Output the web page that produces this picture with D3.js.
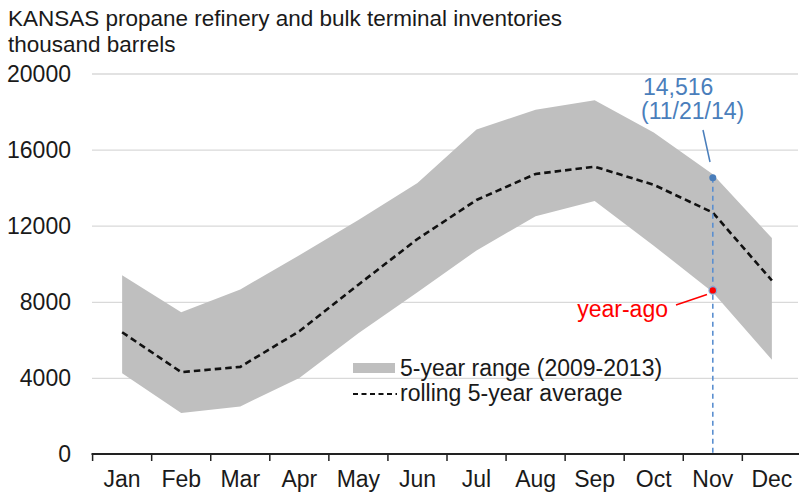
<!DOCTYPE html>
<meta charset="utf-8">
<style>
  body { margin: 0; background: #fff; }
  svg text { font-family: Arial, "Liberation Sans", sans-serif; fill: #1a1a1a; font-size: 23px; }
  .grid line { stroke: #d9d9d9; stroke-width: 1.3; }
  .grid path.domain { display: none; }
</style>
<body></body>
<script src="https://cdn.jsdelivr.net/npm/d3@7"></script>
<script>

var months = ["Jan","Feb","Mar","Apr","May","Jun","Jul","Aug","Sep","Oct","Nov","Dec"];
var rangeHigh = [9400, 7450, 8650, 10450, 12300, 14250, 17050, 18100, 18600, 16900, 14700, 11350];
var rangeLow  = [4250, 2150, 2500, 4000, 6350, 8500, 10700, 12500, 13300, 10950, 8500, 4950];
var avg5yr    = [6400, 4300, 4580, 6450, 8900, 11300, 13350, 14720, 15100, 14150, 12690, 9120];
var yTicks = [0, 4000, 8000, 12000, 16000, 20000];

// latest weekly reading and the year-ago value, both plotted at Nov
var latest = {month: "Nov", value: 14516, label: "14,516", date: "(11/21/14)"};
var yearAgo = {month: "Nov", value: 8600, label: "year-ago"};

var W = 799, H = 492;
var m = {left: 92.6, right: 801.4, top: 73.5, bottom: 454};

var svg = d3.select("body").append("svg")
    .attr("width", W)
    .attr("height", H);

var x = d3.scaleBand().domain(months).range([m.left, m.right]).padding(0);
var y = d3.scaleLinear().domain([0, 20000]).range([m.bottom, m.top]);
var cx = function(d) { return x(d) + x.bandwidth() / 2; };

// title
svg.append("text").attr("x", 8).attr("y", 26).style("font-size", "22.5px")
    .text("KANSAS propane refinery and bulk terminal inventories");
svg.append("text").attr("x", 8).attr("y", 52).style("font-size", "22.5px")
    .text("thousand barrels");

// gridlines + y labels
svg.append("g").attr("class", "grid")
    .attr("transform", "translate(92,0)")
    .call(d3.axisLeft(y).tickValues(yTicks.slice(1)).tickSize(-(798 - 92)).tickFormat(""));

svg.append("g").selectAll("text")
    .data(yTicks).enter().append("text")
    .attr("x", 71)
    .attr("y", function(d) { return y(d); })
    .attr("dy", "0.36em")
    .attr("text-anchor", "end")
    .text(function(d) { return d; });

// 5-year range band
var rows = months.map(function(mo, i) { return {m: mo, hi: rangeHigh[i], lo: rangeLow[i], avg: avg5yr[i]}; });

svg.append("path")
    .datum(rows)
    .attr("fill", "#bfbfbf")
    .attr("d", d3.area()
        .x(function(d) { return cx(d.m); })
        .y0(function(d) { return y(d.lo); })
        .y1(function(d) { return y(d.hi); }));

// rolling average
svg.append("path")
    .datum(rows)
    .attr("fill", "none")
    .attr("stroke", "#111")
    .attr("stroke-width", 2.6)
    .attr("stroke-dasharray", "6.5,4")
    .attr("d", d3.line()
        .x(function(d) { return cx(d.m); })
        .y(function(d) { return y(d.avg); }));

// x axis
var ax = svg.append("g");
ax.append("line")
    .attr("x1", 91.5).attr("x2", m.right)
    .attr("y1", m.bottom).attr("y2", m.bottom)
    .attr("stroke", "#222").attr("stroke-width", 2);
ax.selectAll("line.tick")
    .data(months).enter().append("line")
    .attr("class", "tick")
    .attr("x1", function(d) { return x(d); })
    .attr("x2", function(d) { return x(d); })
    .attr("y1", m.bottom).attr("y2", m.bottom + 7)
    .attr("stroke", "#222").attr("stroke-width", 1.5);
ax.selectAll("text")
    .data(months).enter().append("text")
    .attr("x", cx)
    .attr("y", 487)
    .attr("text-anchor", "middle")
    .text(function(d) { return d; });

// Nov marker line
var nx = cx(latest.month);
svg.append("line")
    .attr("x1", nx).attr("x2", nx)
    .attr("y1", y(latest.value)).attr("y2", m.bottom - 1)
    .attr("stroke", "#5b8fd0").attr("stroke-width", 1.6)
    .attr("stroke-dasharray", "5,4");

svg.append("circle")
    .attr("cx", nx).attr("cy", y(latest.value)).attr("r", 3.5)
    .attr("fill", "#4a7ebb");

svg.append("circle")
    .attr("cx", nx).attr("cy", y(yearAgo.value)).attr("r", 3.8)
    .attr("fill", "#ff0000").attr("stroke", "#7fb0dd").attr("stroke-width", 1.3);

// annotations
svg.append("line")
    .attr("x1", 703).attr("y1", 130).attr("x2", 710).attr("y2", 162)
    .attr("stroke", "#4a7ebb").attr("stroke-width", 1.5);
svg.append("text").attr("x", 643).attr("y", 95)
    .style("fill", "#4a7ebb").text(latest.label);
svg.append("text").attr("x", 641).attr("y", 119)
    .style("fill", "#4a7ebb").text(latest.date);

svg.append("line")
    .attr("x1", 676).attr("y1", 305).attr("x2", 707).attr("y2", 294.5)
    .attr("stroke", "#ff0000").attr("stroke-width", 1.5);
svg.append("text").attr("x", 668).attr("y", 317)
    .attr("text-anchor", "end")
    .style("fill", "#ff0000").text(yearAgo.label);

// legend
var lg = svg.append("g");
lg.append("rect").attr("x", 353).attr("y", 363).attr("width", 42).attr("height", 10).attr("fill", "#bfbfbf");
lg.append("text").attr("x", 400).attr("y", 376).text("5-year range (2009-2013)");
lg.append("line").attr("x1", 353).attr("x2", 397).attr("y1", 394).attr("y2", 394)
    .attr("stroke", "#111").attr("stroke-width", 2).attr("stroke-dasharray", "5,3.5");
lg.append("text").attr("x", 400).attr("y", 401).text("rolling 5-year average");

</script>
